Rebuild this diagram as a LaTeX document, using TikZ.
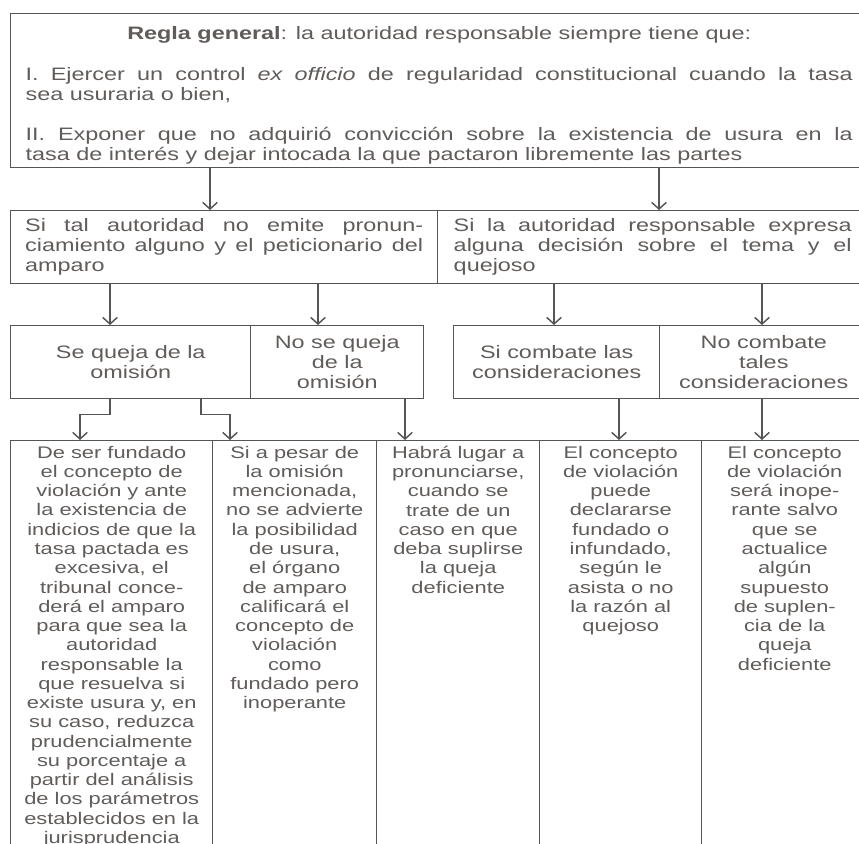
\documentclass[tikz,border=0pt]{standalone}
\usepackage{fontspec}
\setmainfont{Liberation Sans}[FakeStretch=1.3]
\usetikzlibrary{arrows.meta}

\definecolor{linea}{RGB}{85,85,85}
\definecolor{texto}{RGB}{95,92,90}

\begin{document}
\begin{tikzpicture}[
    x=0.75pt, y=-0.75pt,
    caja/.style={draw=linea, line width=1.1pt, anchor=north west, inner sep=0pt, text=texto,
        font=\fontsize{13.5}{15}\selectfont},
    columna/.style={draw=linea, line width=1.1pt, anchor=north west, inner sep=0pt,
        minimum height=315pt},
    texto4/.style={anchor=north, inner xsep=0pt, inner ysep=4.3pt, align=center, text=texto,
        font=\fontsize{12.6}{14.45}\selectfont},
    flecha/.style={draw=linea, line width=1.1pt, -{Straight Barb[length=5pt,width=11pt,line width=1.1pt]}}
]
\useasboundingbox (0,0) rectangle (859,843);
\clip (0,0) rectangle (859,843);

% Regla general
\node[caja, minimum width=642.75pt, minimum height=115.5pt, text width=620.25pt, align=justify]
    (regla) at (10,13) {%
    {\centering\rule{0pt}{17pt}\textbf{Regla general}: la autoridad responsable siempre tiene que:\par}
    \vspace{16pt}
    I. Ejercer un control \textit{ex officio} de regularidad constitucional cuando la tasa\linebreak
    sea usuraria o bien,\par
    \vspace{15pt}
    II. Exponer que no adquirió convicción sobre la existencia de usura en la\linebreak
    tasa de interés y dejar intocada la que pactaron libremente las partes\par};

% Segundo nivel
\node[caja, minimum width=320.25pt, minimum height=54.75pt, text width=298.5pt, align=justify]
    (omite) at (10,210) {Si tal autoridad no emite pronun-\linebreak
    ciamiento alguno y el peticionario del\linebreak amparo};
\node[caja, minimum width=322.5pt, minimum height=54.75pt, text width=298.5pt, align=justify]
    (expresa) at (437,210) {Si la autoridad responsable expresa\linebreak
    alguna decisión sobre el tema y el\linebreak quejoso};

% Tercer nivel
\node[caja, minimum width=180pt, minimum height=54.75pt, align=center]
    (queja) at (10,325) {Se queja de la\\omisión};
\node[caja, minimum width=129.75pt, minimum height=54.75pt, align=center]
    (noqueja) at (250,325) {No se queja\\de la\\omisión};
\node[caja, minimum width=154.5pt, minimum height=54.75pt, align=center]
    (combate) at (453,325) {Si combate las\\consideraciones};
\node[caja, minimum width=156pt, minimum height=54.75pt, align=center]
    (nocombate) at (659,325) {No combate\\tales\\consideraciones};

% Columnas finales
\node[columna, minimum width=151.5pt] (col1) at (10,440) {};
\node[columna, minimum width=123pt] (col2) at (212,440) {};
\node[columna, minimum width=122.25pt] (col3) at (376,440) {};
\node[columna, minimum width=121.5pt] (col4) at (539,440) {};
\node[columna, minimum width=124.5pt] (col5) at (701,440) {};

\node[texto4] (t1) at (col1.north) {De ser fundado\\el concepto de\\violación y ante\\la existencia de\\
    indicios de que la\\tasa pactada es\\excesiva, el\\tribunal conce-\\derá el amparo\\
    para que sea la\\autoridad\\responsable la\\que resuelva si\\existe usura y, en\\
    su caso, reduzca\\prudencialmente\\su porcentaje a\\partir del análisis\\
    de los parámetros\\establecidos en la\\jurisprudencia};
\node[texto4] (t2) at (col2.north) {Si a pesar de\\la omisión\\mencionada,\\no se advierte\\
    la posibilidad\\de usura,\\el órgano\\de amparo\\calificará el\\concepto de\\
    violación\\como\\fundado pero\\inoperante};
\node[texto4] (t3) at (col3.north) {Habrá lugar a\\pronunciarse,\\cuando se\\trate de un\\
    caso en que\\deba suplirse\\la queja\\deficiente};
\node[texto4] (t4) at (col4.north) {El concepto\\de violación\\puede\\declararse\\fundado o\\
    infundado,\\según le\\asista o no\\la razón al\\quejoso};
\node[texto4] (t5) at (col5.north) {El concepto\\de violación\\será inope-\\rante salvo\\
    que se\\actualice\\algún\\supuesto\\de suplen-\\cia de la\\queja\\deficiente};

% Columnas de las flechas
\coordinate (xa) at (210,0);
\coordinate (xb) at (659,0);
\coordinate (xc) at (110,0);
\coordinate (xd) at (318,0);
\coordinate (xe) at (554,0);
\coordinate (xf) at (762,0);
\coordinate (xg) at (80,0);
\coordinate (xh) at (201,0);
\coordinate (xi) at (230,0);
\coordinate (xj) at (405,0);
\coordinate (xk) at (619,0);

% Flechas
\draw[flecha] (regla.south -| xa) -- (omite.north -| xa);
\draw[flecha] (regla.south -| xb) -- (expresa.north -| xb);
\draw[flecha] (omite.south -| xc) -- (queja.north -| xc);
\draw[flecha] (omite.south -| xd) -- (noqueja.north -| xd);
\draw[flecha] (expresa.south -| xe) -- (combate.north -| xe);
\draw[flecha] (expresa.south -| xf) -- (nocombate.north -| xf);
\draw[flecha] (queja.south -| xc) -- ++(0,15) -| (col1.north -| xg);
\draw[flecha] (queja.south -| xh) -- ++(0,15) -| (col2.north -| xi);
\draw[flecha] (noqueja.south -| xj) -- (col3.north -| xj);
\draw[flecha] (combate.south -| xk) -- (col4.north -| xk);
\draw[flecha] (nocombate.south -| xf) -- (col5.north -| xf);

\end{tikzpicture}
\end{document}
